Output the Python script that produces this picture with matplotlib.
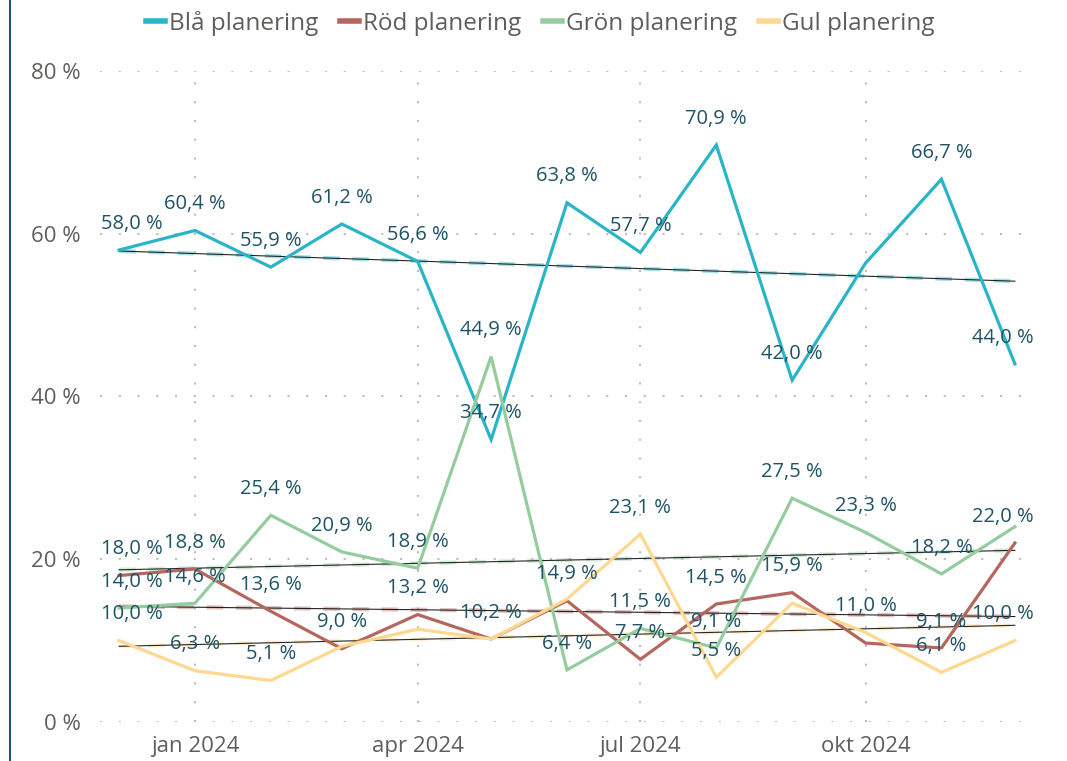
import numpy as np
import pandas as pd
import matplotlib
matplotlib.use("Agg")
import matplotlib.pyplot as plt
import matplotlib.dates as mdates
from matplotlib.lines import Line2D

plt.rcParams['font.family'] = ['Open Sans', 'DejaVu Sans']

months = pd.date_range('2023-12-01', periods=13, freq='MS')
series_names = ['Blå planering', 'Röd planering', 'Grön planering', 'Gul planering']
bla = [58.0, 60.4, 55.9, 61.2, 56.6, 34.7, 63.8, 57.7, 70.9, 42.0, 56.4, 66.7, 44.0]
rod = [18.0, 18.8, 13.6, 9.0, 13.2, 10.2, 14.9, 7.7, 14.5, 15.9, 9.7, 9.1, 22.0]
gron = [14.0, 14.6, 25.4, 20.9, 18.9, 44.9, 6.4, 11.5, 9.1, 27.5, 23.3, 18.2, 24.0]
gul = [10.0, 6.3, 5.1, 9.3, 11.4, 10.2, 15.1, 23.1, 5.5, 14.6, 11.0, 6.1, 10.0]
values = [bla, rod, gron, gul]
colors = ['#2AB4C8', '#B5675E', '#95CC9D', '#FDD88F']
# indices of points whose data label is hidden (overlap suppression)
hidden = [[10], [10], [12], [3, 4, 5, 6, 9]]

xtick_dates = pd.to_datetime(['2024-01-01', '2024-04-01', '2024-07-01', '2024-10-01'])
xtick_labels = ['jan 2024', 'apr 2024', 'jul 2024', 'okt 2024']
yticks = [0, 20, 40, 60, 80]

W, H = 1067, 761
fig = plt.figure(figsize=(W / 100, H / 100), dpi=100)
ax = fig.add_axes([100 / W, 1 - 722 / H, (1033 - 100) / W, (722 - 71) / H])

label_color = '#1F5366'
tick_color = '#605E5C'
grid_color = '#BDBDBD'

xnum = mdates.date2num(months)
for vals, col, hid in zip(values, colors, hidden):
    y = np.array(vals)
    ax.plot(months, y, color=col, lw=2.3, solid_joinstyle='miter', zorder=3)
    # trend line
    p = np.polyfit(xnum, y, 1)
    tx = np.array([xnum[0], xnum[-1]])
    ty = np.polyval(p, tx)
    ax.plot(mdates.num2date(tx), ty, color=col, lw=3, alpha=0.4,
            linestyle=(0, (4, 3)), zorder=2)
    ax.plot(mdates.num2date(tx), ty, color='black', lw=0.8, alpha=0.85, zorder=2.5)
    for i, (d, v) in enumerate(zip(months, vals)):
        if i in hid:
            continue
        if i == len(vals) - 1:
            dx = -9
        elif i == 0:
            dx = 9
        else:
            dx = 0
        ax.annotate(f"{v:.1f} %".replace('.', ','), (d, v), xytext=(dx, 19),
                    textcoords='offset points', ha='center', va='center',
                    fontsize=14.5, color=label_color, zorder=5)

ax.set_ylim(0, 80)
ax.set_xlim(months[0] - pd.Timedelta(days=7.8), months[-1] + pd.Timedelta(days=7.4))
ax.set_yticks(yticks)
ax.set_yticklabels([f"{t} %" for t in yticks])
ax.set_xticks(xtick_dates)
ax.set_xticklabels(xtick_labels)
ax.tick_params(axis='both', length=0, labelsize=16, colors=tick_color)
ax.tick_params(axis='y', pad=14)
ax.tick_params(axis='x', pad=10)
ax.grid(True, color=grid_color, linestyle=(0, (1, 8)), lw=1.5)
for s in ax.spines.values():
    s.set_visible(False)
ax.set_axisbelow(True)

handles = [Line2D([0], [0], color=c, lw=4) for c in colors]
fig.legend(handles, series_names, loc='center', bbox_to_anchor=(540 / W, 1 - 23 / H),
           ncol=4, frameon=False, fontsize=17.5, handlelength=0.8, handletextpad=0.15,
           columnspacing=0.9, labelcolor=tick_color)

fig.add_artist(Line2D([9.5 / W, 9.5 / W], [0, 1], color='#1B5A66', lw=1.5,
                      transform=fig.transFigure))

fig.savefig('out.png', dpi=100)
